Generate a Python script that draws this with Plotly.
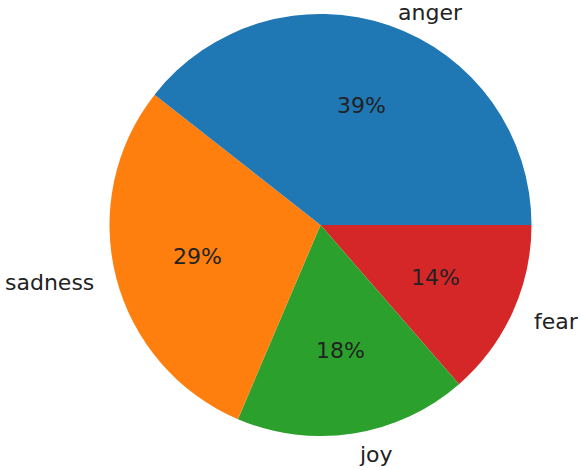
import numpy as np
import plotly.graph_objects as go

labels = ["anger", "sadness", "joy", "fear"]
values = [39.4, 29.2, 17.8, 13.6]
colors = ["#1f77b4", "#ff7f0e", "#2ca02c", "#d62728"]

W, H = 580, 470
cx_px, cy_px, r_px = 320.5, 225, 211
cx, cy = cx_px / W, 1 - cy_px / H
rx, ry = r_px / W, r_px / H

# matplotlib lays slices counterclockwise from 3 o'clock; emulate with reversed order clockwise
fig = go.Figure(go.Pie(
    labels=labels[::-1], values=values[::-1], sort=False, direction="clockwise",
    rotation=90, marker=dict(colors=colors[::-1], line=dict(width=0)),
    textinfo="none", hoverinfo="label+percent", showlegend=False,
    domain=dict(x=[cx - rx, cx + rx], y=[cy - ry, cy + ry]),
))

total = sum(values)
cum = np.cumsum([0] + values)
font = dict(family="DejaVu Sans", size=22, color="#222222")
annotations = []
for i, lab in enumerate(labels):
    mid = np.deg2rad(360 * (cum[i] + cum[i + 1]) / 2 / total)
    c, s = np.cos(mid), np.sin(mid)
    annotations.append(dict(x=cx + 0.6 * rx * c, y=cy + 0.6 * ry * s, xref="paper", yref="paper",
                            text=f"{round(100 * values[i] / total)}%", showarrow=False,
                            xanchor="center", yanchor="middle", font=font))
    xa = "left" if c > 0 else ("right" if c < 0 else "center")
    ly = min(cy + 1.1 * ry * s, 1 - 13 / H)
    annotations.append(dict(x=cx + 1.1 * rx * c, y=ly, xref="paper", yref="paper",
                            text=lab, showarrow=False, xanchor=xa, yanchor="middle", font=font))

fig.update_layout(width=W, height=H, margin=dict(l=0, r=0, t=0, b=0),
                  paper_bgcolor="white", plot_bgcolor="white", annotations=annotations)
fig.write_html("out.html")
